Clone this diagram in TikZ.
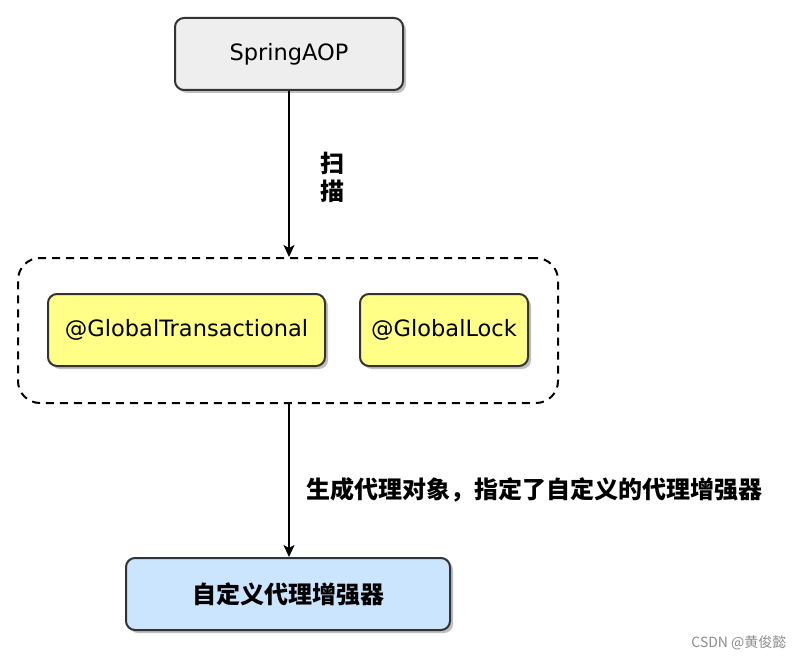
\documentclass[tikz,border=0pt]{standalone}
\usepackage{fontspec}
\setmainfont{DejaVu Sans}
\newfontfamily\cjk{Noto Sans CJK SC}
\usepackage{xcolor}
\usetikzlibrary{arrows.meta,shadows}
\definecolor{edge}{HTML}{333333}
\definecolor{greyfill}{HTML}{EEEEEE}
\definecolor{yellowfill}{HTML}{FFFF88}
\definecolor{bluefill}{HTML}{CCE5FF}
\tikzset{
  box/.style={draw=edge, line width=2pt, rounded corners=9pt, align=center,
              inner sep=0pt, minimum height=72pt,
              font=\fontsize{22.5}{26}\selectfont,
              drop shadow={shadow xshift=3pt, shadow yshift=-3pt, opacity=0.25, fill=black}},
  top/.style={box, fill=greyfill},
  anno/.style={box, fill=yellowfill},
  proxy/.style={box, fill=bluefill, font=\fontsize{24}{28}\selectfont\cjk\bfseries},
  group/.style={draw=black, line width=2pt, dash pattern=on 8pt off 6pt,
                rounded corners=22pt, inner sep=0pt},
  flow/.style={-{Stealth[length=12pt, width=11pt, inset=3pt]}, line width=2pt},
  lbl/.style={font=\fontsize{24}{28}\selectfont\cjk\bfseries, align=center, inner sep=0pt},
}
\begin{document}
\begin{tikzpicture}[x=1pt, y=-1pt]
  \useasboundingbox (0,0) rectangle (802,660);
  % scanning side
  \node[top, minimum width=228pt] (aop) at (289,54) {SpringAOP};
  \node[group, minimum width=540pt, minimum height=145pt] (grp) at (288,330.5) {};
  \node[anno, minimum width=277pt] (gtx) at (186.5,330) {@GlobalTransactional};
  \node[anno, minimum width=168pt] (glock) at (444,330) {@GlobalLock};
  % proxy side
  \node[proxy, minimum width=324pt] (enh) at (288,594) {自定义代理增强器};
  \draw[flow] (aop.south) -- (aop.south |- grp.north);
  \draw[flow] (aop.south |- grp.south) -- (aop.south |- enh.north);
  \node[lbl] (scan) at (332,177) {扫\\描};
  \node[lbl, anchor=west] (gen) at (306,490) {生成代理对象，指定了自定义的代理增强器};
  \node[font=\fontsize{14}{16}\selectfont\cjk, text=black!45, anchor=east] (mark) at (790,643) {CSDN @黄俊懿};
\end{tikzpicture}
\end{document}
